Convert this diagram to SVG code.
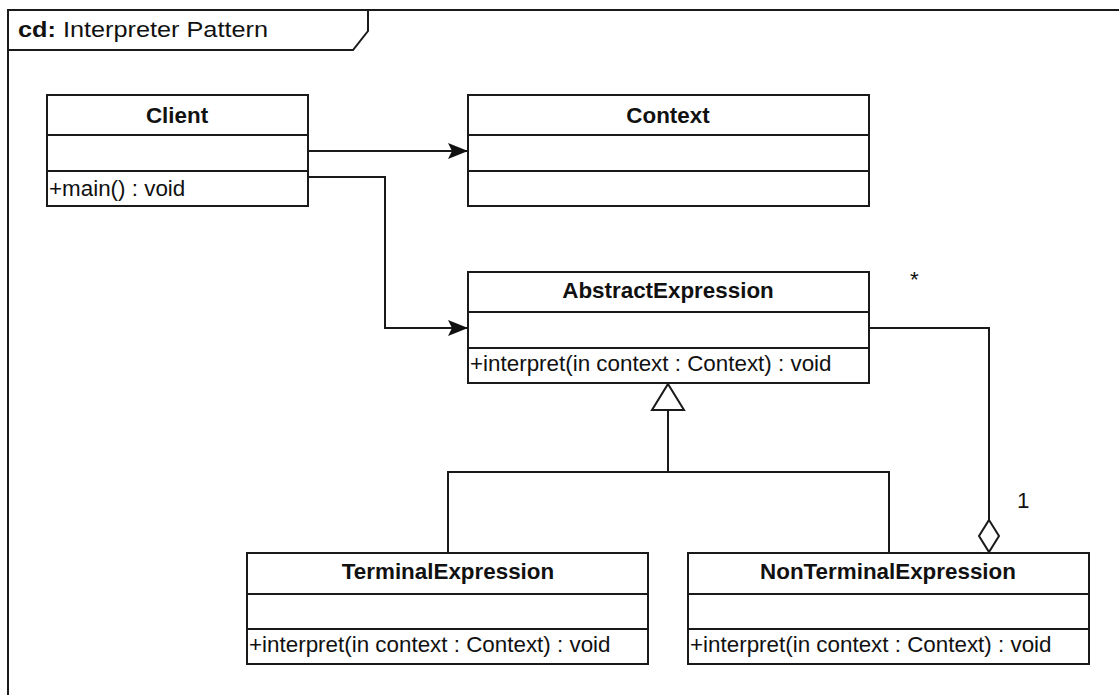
<svg xmlns="http://www.w3.org/2000/svg" width="1119" height="695" viewBox="0 0 1119 695">
  <style>
    .box { fill: #ffffff; stroke: #1a1a1a; stroke-width: 2; }
    .sep { stroke: #1a1a1a; stroke-width: 2; }
    .edge { fill: none; stroke: #1a1a1a; stroke-width: 2; }
    .name { font-family: "Liberation Sans", Arial, sans-serif; font-size: 22.4px; font-weight: bold; fill: #111; text-anchor: middle; }
    .member { font-family: "Liberation Sans", Arial, sans-serif; font-size: 22.4px; fill: #111; }
    .mult { font-family: "Liberation Sans", Arial, sans-serif; font-size: 22.4px; fill: #111; }
    .title { font-family: "Liberation Sans", Arial, sans-serif; font-size: 22.4px; fill: #111; }
  </style>
  <defs>
    <marker id="arrow" viewBox="0 0 20 16" refX="20" refY="8" markerWidth="20" markerHeight="16" markerUnits="userSpaceOnUse" orient="auto">
      <path d="M0,0 L20,8 L0,16 L4,8 Z" fill="#111"/>
    </marker>
  </defs>

  <rect width="1119" height="695" fill="#ffffff"/>

  <!-- diagram frame with name tab -->
  <g id="frame">
    <rect x="8" y="10" width="1130" height="700" fill="none" stroke="#1a1a1a" stroke-width="2"/>
    <path d="M8,50 L353,50 L368,31 L368,10" fill="none" stroke="#1a1a1a" stroke-width="2"/>
    <text class="title" x="18" y="37" textLength="250" lengthAdjust="spacingAndGlyphs"><tspan font-weight="bold">cd:</tspan> Interpreter Pattern</text>
  </g>

  <!-- connectors -->
  <g id="connectors">
    <path class="edge" d="M308,151 L468,151" marker-end="url(#arrow)"/>
    <path class="edge" d="M308,177 L385,177 L385,328 L468,328" marker-end="url(#arrow)"/>
    <path class="edge" d="M448,553 L448,472 L889,472 L889,553"/>
    <path class="edge" d="M668,472 L668,410"/>
    <path d="M668,384 L684,410 L652,410 Z" fill="#ffffff" stroke="#1a1a1a" stroke-width="2"/>
    <path class="edge" d="M869,328 L989,328 L989,520"/>
    <path d="M989,520 L999,536 L989,552 L979,536 Z" fill="#ffffff" stroke="#1a1a1a" stroke-width="2"/>
    <text class="mult" x="910" y="287">*</text>
    <text class="mult" x="1017" y="508">1</text>
  </g>

  <g id="client">
    <rect class="box" x="47" y="95" width="261" height="111"/>
    <line class="sep" x1="47" y1="135" x2="308" y2="135"/>
    <line class="sep" x1="47" y1="171" x2="308" y2="171"/>
    <text class="name" x="177" y="123">Client</text>
    <text class="member" x="49" y="196">+main() : void</text>
  </g>

  <g id="context">
    <rect class="box" x="468" y="95" width="401" height="111"/>
    <line class="sep" x1="468" y1="135" x2="869" y2="135"/>
    <line class="sep" x1="468" y1="171" x2="869" y2="171"/>
    <text class="name" x="668" y="123">Context</text>
  </g>

  <g id="abstract-expression">
    <rect class="box" x="468" y="272" width="401" height="111"/>
    <line class="sep" x1="468" y1="312" x2="869" y2="312"/>
    <line class="sep" x1="468" y1="348" x2="869" y2="348"/>
    <text class="name" x="668" y="298">AbstractExpression</text>
    <text class="member" x="470" y="371">+interpret(in context : Context) : void</text>
  </g>

  <g id="terminal-expression">
    <rect class="box" x="247" y="553" width="401" height="111"/>
    <line class="sep" x1="247" y1="594" x2="648" y2="594"/>
    <line class="sep" x1="247" y1="629" x2="648" y2="629"/>
    <text class="name" x="448" y="579">TerminalExpression</text>
    <text class="member" x="249" y="652">+interpret(in context : Context) : void</text>
  </g>

  <g id="nonterminal-expression">
    <rect class="box" x="688" y="553" width="401" height="111"/>
    <line class="sep" x1="688" y1="594" x2="1089" y2="594"/>
    <line class="sep" x1="688" y1="629" x2="1089" y2="629"/>
    <text class="name" x="888" y="579">NonTerminalExpression</text>
    <text class="member" x="690" y="652">+interpret(in context : Context) : void</text>
  </g>
</svg>
